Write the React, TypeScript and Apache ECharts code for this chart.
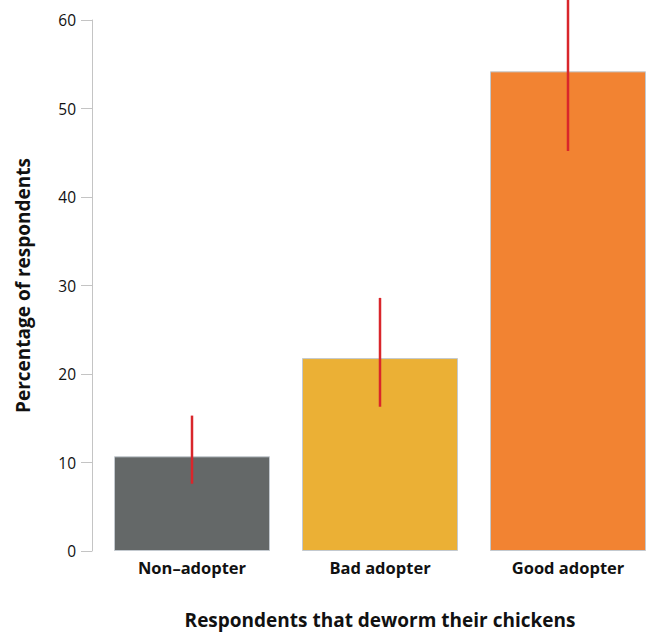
import React, { useEffect, useRef } from "react";
import * as echarts from "echarts";

const categories = ["Non–adopter", "Bad adopter", "Good adopter"];
const values = [10.7, 21.8, 54.2];
const errLow = [7.6, 16.3, 45.2];
const errHigh = [15.3, 28.6, 64.0];
const barColors = ["#646868", "#ebb035", "#f28332"];
const yTicks = [0, 10, 20, 30, 40, 50, 60];

export default function App() {
  const ref = useRef<HTMLDivElement>(null);
  useEffect(() => {
    const chart = echarts.init(ref.current!, null, { renderer: "svg" });
    const font = "'Open Sans', 'Noto Sans', sans-serif";
    chart.setOption({
      animation: false,
      textStyle: { fontFamily: font },
      grid: { left: 98, right: -7, top: 20, bottom: 84, containLabel: false, outerBoundsMode: "none" },
      xAxis: {
        type: "category",
        data: categories,
        axisLine: { show: false },
        axisTick: { show: false },
        axisLabel: { color: "#111", fontSize: 16.5, fontWeight: "bold", margin: 8, fontFamily: font },
        name: "Respondents that deworm their chickens",
        nameLocation: "middle",
        nameGap: 59,
        nameTextStyle: { color: "#111", fontSize: 19, fontWeight: "bold", fontFamily: font },
      },
      yAxis: {
        type: "value",
        min: yTicks[0],
        max: yTicks[yTicks.length - 1],
        interval: 10,
        offset: 6,
        splitLine: { show: false },
        axisLine: { show: true, lineStyle: { color: "#c4c4c4", width: 1 } },
        axisTick: { show: true, length: 11, lineStyle: { color: "#c4c4c4" } },
        axisLabel: { color: "#111", fontSize: 15.5, margin: 16, fontFamily: font },
        name: "Percentage of respondents",
        nameLocation: "middle",
        nameGap: 60,
        nameTextStyle: { color: "#111", fontSize: 19, fontWeight: "bold", fontFamily: font },
      },
      series: [
        {
          type: "bar",
          barCategoryGap: 32,
          barWidth: 156,
          data: values.map((v, i) => ({
            value: v,
            itemStyle: { color: barColors[i], borderColor: "#c3c9cf", borderWidth: 1 },
          })),
        },
        {
          type: "custom",
          clip: false,
          z: 10,
          data: categories.map((_, i) => [i, errLow[i], errHigh[i]]),
          renderItem: (params: any, api: any) => {
            const i = api.value(0);
            const lo = api.coord([i, api.value(1)]);
            const hi = api.coord([i, api.value(2)]);
            return {
              type: "line",
              shape: { x1: lo[0], y1: lo[1], x2: hi[0], y2: hi[1] },
              style: { stroke: "#d9262b", lineWidth: 2.5 },
            };
          },
        },
      ],
    });
    return () => chart.dispose();
  }, []);
  return <div ref={ref} style={{ width: 655, height: 635, position: "absolute", left: 0, top: 0 }} />;
}
